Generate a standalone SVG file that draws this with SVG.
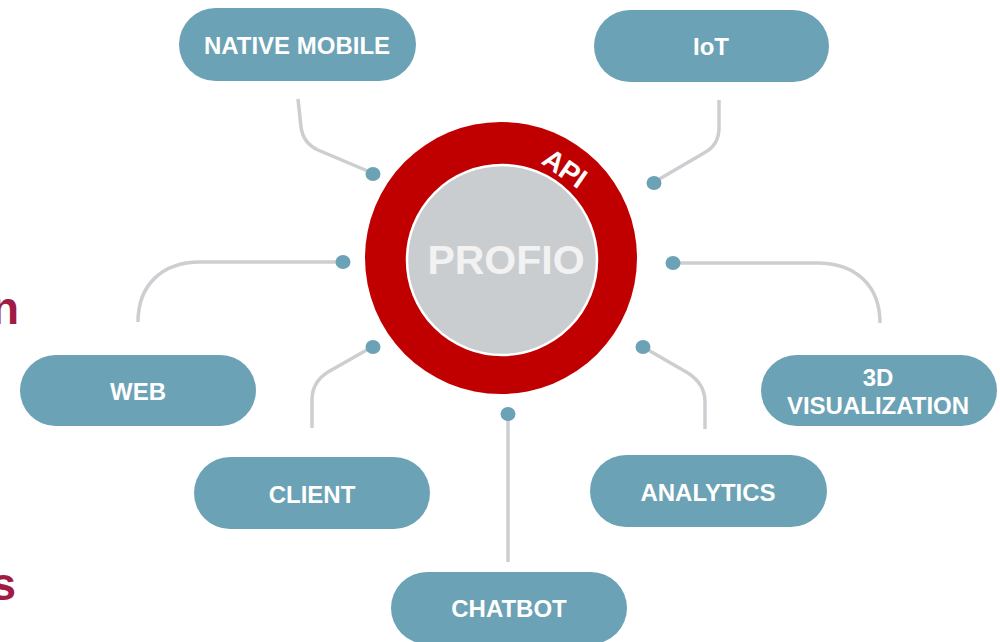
<svg xmlns="http://www.w3.org/2000/svg" width="1000" height="642" viewBox="0 0 1000 642">
<style>
.pill{fill:#6CA2B5}
.lbl{font-family:"Liberation Sans",Arial,sans-serif;font-weight:bold;font-size:24px;fill:#FFFFFF;text-anchor:middle}
.con{fill:none;stroke:#CCCED1;stroke-width:3.5;stroke-linecap:butt;stroke-linejoin:round}
.dot{fill:#6CA2B5}
.side{font-family:"Liberation Sans",Arial,sans-serif;font-weight:bold;font-size:46px;fill:#A01C44;text-anchor:end}
</style>
<rect width="1000" height="642" fill="#FFFFFF"/>
<text class="side" x="19" y="324">n</text>
<text class="side" x="16" y="600">s</text>
<g id="connectors">
<path class="con" d="M298,99 L301,127 Q303,143 318,150 L370,172"/>
<ellipse class="dot" cx="373" cy="174" rx="7.5" ry="7"/>
<path class="con" d="M719,100 L719,128 Q719,145 704,153 L656,181"/>
<ellipse class="dot" cx="654" cy="183" rx="7.5" ry="7"/>
<path class="con" d="M343,262 L200,262 C162,262 138,285 138,322"/>
<ellipse class="dot" cx="343" cy="262" rx="7.5" ry="7"/>
<path class="con" d="M372,347 L328,372 Q312,382 312,400 L312,428"/>
<ellipse class="dot" cx="373" cy="347" rx="7.5" ry="7"/>
<path class="con" d="M673,263 L817,263 C855,263 880,285 880,323"/>
<ellipse class="dot" cx="673" cy="263" rx="7.5" ry="7"/>
<path class="con" d="M643,347 L688,373 Q705,384 705,402 L705,429"/>
<ellipse class="dot" cx="643" cy="347" rx="7.5" ry="7"/>
<path class="con" d="M508,414 L508,562"/>
<ellipse class="dot" cx="508" cy="414" rx="7.5" ry="7"/>
</g>
<g id="profio">
<circle cx="501" cy="258" r="136" fill="#C00000"/>
<circle cx="502" cy="260" r="95" fill="#CACDD0" stroke="#FFFFFF" stroke-width="2.5"/>
<text x="506" y="274" font-family="'Liberation Sans',Arial,sans-serif" font-weight="bold" font-size="41" fill="#F2F2F2" text-anchor="middle">PROFIO</text>
<text transform="translate(565,168) rotate(35)" x="0" y="10" font-family="'Liberation Sans',Arial,sans-serif" font-weight="bold" font-size="28" fill="#FFFFFF" text-anchor="middle">API</text>
</g>
<g id="native-mobile">
<rect class="pill" x="179" y="8" width="237" height="73" rx="36.5"/>
<text class="lbl" x="297" y="54">NATIVE MOBILE</text>
</g>
<g id="iot">
<rect class="pill" x="594" y="10" width="235" height="72" rx="36"/>
<text class="lbl" x="711" y="55">IoT</text>
</g>
<g id="web">
<rect class="pill" x="20" y="355" width="236" height="71" rx="35.5"/>
<text class="lbl" x="138" y="400">WEB</text>
</g>
<g id="visualization">
<rect class="pill" x="761" y="355" width="236" height="71" rx="35.5"/>
<text class="lbl" x="878" y="386">3D</text>
<text class="lbl" x="878" y="414">VISUALIZATION</text>
</g>
<g id="client">
<rect class="pill" x="194" y="457" width="236" height="72" rx="36"/>
<text class="lbl" x="312" y="503">CLIENT</text>
</g>
<g id="analytics">
<rect class="pill" x="590" y="455" width="237" height="72" rx="36"/>
<text class="lbl" x="708" y="501">ANALYTICS</text>
</g>
<g id="chatbot">
<rect class="pill" x="391" y="572" width="236" height="72" rx="36"/>
<text class="lbl" x="509" y="617">CHATBOT</text>
</g>
</svg>
